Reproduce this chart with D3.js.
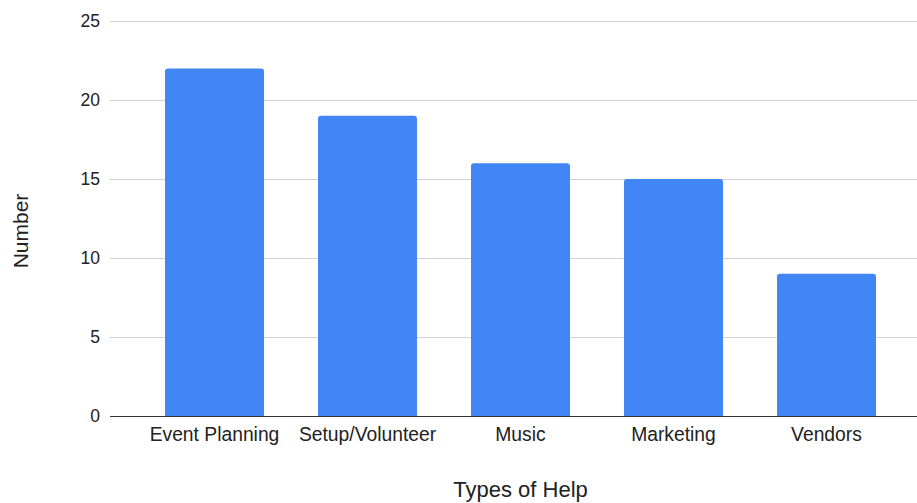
<!DOCTYPE html>
<html><head><meta charset="utf-8">
<script src="https://cdn.jsdelivr.net/npm/d3@7"></script>
<style>html,body{margin:0;padding:0;background:#fff;}svg{display:block;}</style>
</head><body>
<svg id="chart" width="917" height="503"></svg>
<script>
const categories = ["Event Planning", "Setup/Volunteer", "Music", "Marketing", "Vendors"];
const values = [22, 19, 16, 15, 9];
const yTicks = [0, 5, 10, 15, 20, 25];
const xTitle = "Types of Help";
const yTitle = "Number";

const svg = d3.select("#chart");
const font = "'Liberation Sans', Arial, sans-serif";
const gridLeft = 110, gridRight = 917;

const x = d3.scaleBand().domain(categories).range([138, 903]).paddingInner(0.353).paddingOuter(0.1765);
const y = d3.scaleLinear().domain([0, 25]).range([416, 21]);

// gridlines
svg.append("g").selectAll("line").data(yTicks.filter(d => d !== 0)).join("line")
  .attr("x1", gridLeft).attr("x2", gridRight)
  .attr("y1", d => y(d) + 0.5).attr("y2", d => y(d) + 0.5)
  .attr("stroke", "#d3d3d3").attr("stroke-width", 1);

// y tick labels
svg.append("g").selectAll("text").data(yTicks).join("text")
  .attr("x", 100).attr("y", d => y(d)).attr("dy", "0.35em")
  .attr("text-anchor", "end").attr("font-family", font).attr("font-size", 17.5)
  .attr("fill", "#222").text(d => d);

// bars with rounded top corners
const r = 3;
svg.append("g").selectAll("path").data(values).join("path")
  .attr("fill", "#4285F4")
  .attr("d", (d, i) => {
    const x0 = x(categories[i]), w = x.bandwidth(), y0 = y(d), y1 = y(0);
    return `M${x0},${y1}V${y0 + r}Q${x0},${y0} ${x0 + r},${y0}H${x0 + w - r}Q${x0 + w},${y0} ${x0 + w},${y0 + r}V${y1}Z`;
  });

// baseline
svg.append("line").attr("x1", gridLeft).attr("x2", gridRight)
  .attr("y1", y(0) + 0.5).attr("y2", y(0) + 0.5)
  .attr("stroke", "#333").attr("stroke-width", 1.2);

// category labels
svg.append("g").selectAll("text").data(categories).join("text")
  .attr("x", d => x(d) + x.bandwidth() / 2).attr("y", 441)
  .attr("text-anchor", "middle").attr("font-family", font).attr("font-size", 19.3)
  .attr("fill", "#222").text(d => d);

// axis titles
svg.append("text").attr("x", 520.5).attr("y", 497).attr("text-anchor", "middle")
  .attr("font-family", font).attr("font-size", 22).attr("fill", "#222").text(xTitle);

svg.append("text").attr("transform", "translate(27.5,231) rotate(-90)")
  .attr("text-anchor", "middle").attr("font-family", font).attr("font-size", 21)
  .attr("fill", "#222").text(yTitle);
</script>
</body></html>
